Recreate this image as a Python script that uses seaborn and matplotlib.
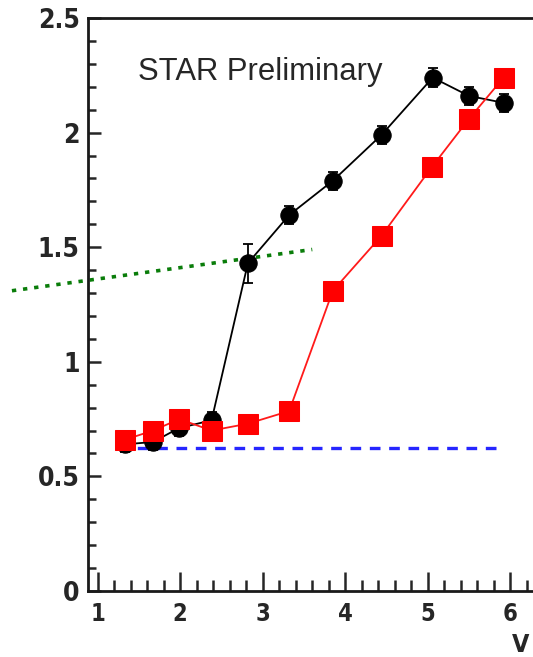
import matplotlib
matplotlib.use("Agg")
import matplotlib.pyplot as plt
from matplotlib.ticker import MultipleLocator, FixedLocator
import seaborn as sns
import numpy as np
import pandas as pd

# ---- data ----
black_x = [1.33, 1.67, 1.98, 2.38, 2.82, 3.32, 3.85, 4.44, 5.06, 5.50, 5.92]
black_y = [0.64, 0.65, 0.71, 0.745, 1.43, 1.64, 1.79, 1.99, 2.24, 2.16, 2.13]
black_err = [0.035, 0.035, 0.035, 0.035, 0.085, 0.04, 0.04, 0.04, 0.04, 0.04, 0.04]

red_x = [1.33, 1.67, 1.99, 2.38, 2.82, 3.32, 3.85, 4.44, 5.05, 5.50, 5.92]
red_y = [0.66, 0.70, 0.75, 0.70, 0.73, 0.785, 1.31, 1.55, 1.85, 2.06, 2.24]

blue_x = [1.24, 5.88]
blue_y = [0.625, 0.625]

green_x = [-0.04, 3.60]
green_y = [1.31, 1.49]

y_ticks = [0, 0.5, 1, 1.5, 2, 2.5]
y_ticklabels = ["0", "0.5", "1", "1.5", "2", "2.5"]
x_ticks = [1, 2, 3, 4, 5, 6]
x_ticklabels = ["1", "2", "3", "4", "5", "6"]

annotation = "STAR Preliminary"
xlabel_fragment = "V"

# ---- figure ----
sns.set_style("ticks")
plt.rcParams['font.family'] = ['DejaVu Sans']

fig = plt.figure(figsize=(5.33, 6.57), dpi=100)
ax = fig.add_axes([88/533, 66/657, (551.5-88)/533, (591-18)/657])

tick_font = {'family': ['DejaVu Sans'], 'weight': 'bold', 'stretch': 'condensed'}

# reference lines
sns.lineplot(x=blue_x, y=blue_y, ax=ax, color='#2626ff', linewidth=2.4, zorder=2)
ax.lines[-1].set_dashes((3.2, 2.6))
sns.lineplot(x=green_x, y=green_y, ax=ax, color='#0a7d0a', linewidth=2.6, zorder=2)
ax.lines[-1].set_dashes((1.2, 1.9))
ax.lines[-1].set_clip_on(False)

# black series
df_b = pd.DataFrame({'x': black_x, 'y': black_y})
ax.errorbar(black_x, black_y, yerr=black_err, fmt='none', ecolor='black',
            elinewidth=1.3, capsize=3.5, capthick=1.3, zorder=3)
sns.lineplot(data=df_b, x='x', y='y', ax=ax, sort=False, color='black',
             linewidth=1.3, marker='o', markersize=12.5,
             markeredgecolor='black', markerfacecolor='black', zorder=4)

# red series
df_r = pd.DataFrame({'x': red_x, 'y': red_y})
sns.lineplot(data=df_r, x='x', y='y', ax=ax, sort=False, color='#ff1a1a',
             linewidth=1.3, marker='s', markersize=14,
             markeredgecolor='#ff0000', markerfacecolor='#ff0000', zorder=5)

ax.set_xlim(0.882, 6.5)
ax.set_ylim(0, 2.5)
ax.set_xlabel("")
ax.set_ylabel("")

ax.xaxis.set_major_locator(FixedLocator(x_ticks))
ax.xaxis.set_minor_locator(MultipleLocator(0.2))
ax.yaxis.set_major_locator(FixedLocator(y_ticks))
ax.yaxis.set_minor_locator(MultipleLocator(0.1))
ax.set_xticklabels(x_ticklabels, fontdict=tick_font, fontsize=17)
ax.set_yticklabels(y_ticklabels, fontdict=tick_font, fontsize=19)

ax.tick_params(axis='x', which='major', direction='in', length=14, width=1.8,
               pad=8, top=False)
ax.tick_params(axis='x', which='minor', direction='in', length=8, width=1.8,
               top=False)
ax.tick_params(axis='y', which='major', direction='in', length=9, width=1.8,
               pad=6, right=False)
ax.tick_params(axis='y', which='minor', direction='in', length=5.5, width=1.8,
               right=False)

for s in ['left', 'bottom', 'top']:
    ax.spines[s].set_linewidth(2.0)
    ax.spines[s].set_color('#1a1a1a')
ax.spines['right'].set_visible(False)

fig.text(138/533, (657-80)/657, annotation, fontsize=22.3,
         family=['Liberation Sans', 'DejaVu Sans'], ha='left', va='baseline')
fig.text(512/533, (657-652)/657, xlabel_fragment, fontsize=18,
         fontdict=tick_font, ha='left', va='baseline')

fig.savefig("out.png", dpi=100)
